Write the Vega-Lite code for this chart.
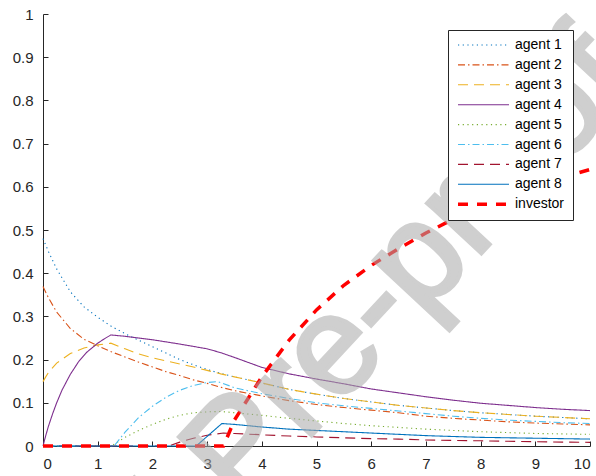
{
  "$schema": "https://vega.github.io/schema/vega-lite/v6.json",
  "width": 547,
  "height": 432,
  "autosize": "none",
  "padding": {"left": 43, "top": 14, "right": 6, "bottom": 30},
  "background": "white",
  "config": {
    "view": {"stroke": null},
    "font": "Liberation Sans",
    "axis": {
      "domainColor": "#262626",
      "tickColor": "#262626",
      "labelColor": "#262626",
      "labelFont": "Liberation Sans",
      "labelFontSize": 15,
      "grid": false,
      "tickSize": -5,
      "labelPadding": 15,
      "domainWidth": 1,
      "tickWidth": 1,
      "title": null
    }
  },
  "layer": [
    {
      "data": {
        "values": [
          {"s":"agent 1","x":0,"y":0.48},{"s":"agent 1","x":0.1,"y":0.45},{"s":"agent 1","x":0.25,"y":0.41},{"s":"agent 1","x":0.5,"y":0.357},{"s":"agent 1","x":0.75,"y":0.322},{"s":"agent 1","x":1,"y":0.298},{"s":"agent 1","x":1.25,"y":0.277},{"s":"agent 1","x":1.5,"y":0.26},{"s":"agent 1","x":1.75,"y":0.245},{"s":"agent 1","x":2,"y":0.23},{"s":"agent 1","x":2.25,"y":0.215},{"s":"agent 1","x":2.5,"y":0.2},{"s":"agent 1","x":2.75,"y":0.188},{"s":"agent 1","x":3,"y":0.177},{"s":"agent 1","x":3.25,"y":0.168},{"s":"agent 1","x":3.5,"y":0.16},{"s":"agent 1","x":4,"y":0.146},{"s":"agent 1","x":4.5,"y":0.131},{"s":"agent 1","x":5,"y":0.12},{"s":"agent 1","x":5.5,"y":0.11},{"s":"agent 1","x":6,"y":0.102},{"s":"agent 1","x":6.5,"y":0.094},{"s":"agent 1","x":7,"y":0.088},{"s":"agent 1","x":7.5,"y":0.082},{"s":"agent 1","x":8,"y":0.077},{"s":"agent 1","x":8.5,"y":0.073},{"s":"agent 1","x":9,"y":0.069},{"s":"agent 1","x":9.5,"y":0.066},{"s":"agent 1","x":10,"y":0.063},

          {"s":"agent 2","x":0,"y":0.369},{"s":"agent 2","x":0.1,"y":0.343},{"s":"agent 2","x":0.25,"y":0.31},{"s":"agent 2","x":0.5,"y":0.272},{"s":"agent 2","x":0.75,"y":0.247},{"s":"agent 2","x":1,"y":0.232},{"s":"agent 2","x":1.25,"y":0.218},{"s":"agent 2","x":1.5,"y":0.206},{"s":"agent 2","x":1.75,"y":0.194},{"s":"agent 2","x":2,"y":0.183},{"s":"agent 2","x":2.25,"y":0.172},{"s":"agent 2","x":2.5,"y":0.163},{"s":"agent 2","x":2.75,"y":0.153},{"s":"agent 2","x":3,"y":0.145},{"s":"agent 2","x":3.25,"y":0.136},{"s":"agent 2","x":3.5,"y":0.128},{"s":"agent 2","x":4,"y":0.116},{"s":"agent 2","x":4.5,"y":0.105},{"s":"agent 2","x":5,"y":0.096},{"s":"agent 2","x":5.5,"y":0.089},{"s":"agent 2","x":6,"y":0.083},{"s":"agent 2","x":6.5,"y":0.077},{"s":"agent 2","x":7,"y":0.069},{"s":"agent 2","x":7.5,"y":0.064},{"s":"agent 2","x":8,"y":0.06},{"s":"agent 2","x":8.5,"y":0.056},{"s":"agent 2","x":9,"y":0.053},{"s":"agent 2","x":9.5,"y":0.051},{"s":"agent 2","x":10,"y":0.049},

          {"s":"agent 3","x":0,"y":0.149},{"s":"agent 3","x":0.05,"y":0.16},{"s":"agent 3","x":0.1,"y":0.17},{"s":"agent 3","x":0.25,"y":0.192},{"s":"agent 3","x":0.5,"y":0.214},{"s":"agent 3","x":0.75,"y":0.227},{"s":"agent 3","x":1,"y":0.234},{"s":"agent 3","x":1.24,"y":0.238},{"s":"agent 3","x":1.5,"y":0.225},{"s":"agent 3","x":1.75,"y":0.213},{"s":"agent 3","x":2,"y":0.204},{"s":"agent 3","x":2.25,"y":0.197},{"s":"agent 3","x":2.5,"y":0.19},{"s":"agent 3","x":2.75,"y":0.183},{"s":"agent 3","x":3,"y":0.175},{"s":"agent 3","x":3.25,"y":0.167},{"s":"agent 3","x":3.5,"y":0.16},{"s":"agent 3","x":4,"y":0.146},{"s":"agent 3","x":4.5,"y":0.131},{"s":"agent 3","x":5,"y":0.12},{"s":"agent 3","x":5.5,"y":0.11},{"s":"agent 3","x":6,"y":0.102},{"s":"agent 3","x":6.5,"y":0.094},{"s":"agent 3","x":7,"y":0.088},{"s":"agent 3","x":7.5,"y":0.082},{"s":"agent 3","x":8,"y":0.077},{"s":"agent 3","x":8.5,"y":0.073},{"s":"agent 3","x":9,"y":0.069},{"s":"agent 3","x":9.5,"y":0.066},{"s":"agent 3","x":10,"y":0.063},

          {"s":"agent 4","x":0,"y":0},{"s":"agent 4","x":0.05,"y":0.024},{"s":"agent 4","x":0.1,"y":0.046},{"s":"agent 4","x":0.18,"y":0.076},{"s":"agent 4","x":0.25,"y":0.1},{"s":"agent 4","x":0.35,"y":0.13},{"s":"agent 4","x":0.5,"y":0.166},{"s":"agent 4","x":0.65,"y":0.195},{"s":"agent 4","x":0.8,"y":0.217},{"s":"agent 4","x":1,"y":0.238},{"s":"agent 4","x":1.12,"y":0.248},{"s":"agent 4","x":1.24,"y":0.257},{"s":"agent 4","x":1.5,"y":0.254},{"s":"agent 4","x":2,"y":0.246},{"s":"agent 4","x":2.5,"y":0.236},{"s":"agent 4","x":3,"y":0.225},{"s":"agent 4","x":3.25,"y":0.216},{"s":"agent 4","x":3.5,"y":0.205},{"s":"agent 4","x":4,"y":0.182},{"s":"agent 4","x":4.5,"y":0.167},{"s":"agent 4","x":5,"y":0.155},{"s":"agent 4","x":5.5,"y":0.144},{"s":"agent 4","x":6,"y":0.132},{"s":"agent 4","x":6.5,"y":0.123},{"s":"agent 4","x":7,"y":0.114},{"s":"agent 4","x":7.5,"y":0.106},{"s":"agent 4","x":8,"y":0.099},{"s":"agent 4","x":8.5,"y":0.094},{"s":"agent 4","x":9,"y":0.089},{"s":"agent 4","x":9.5,"y":0.085},{"s":"agent 4","x":10,"y":0.082},

          {"s":"agent 5","x":0,"y":0},{"s":"agent 5","x":1.25,"y":0},{"s":"agent 5","x":1.5,"y":0.02},{"s":"agent 5","x":1.75,"y":0.036},{"s":"agent 5","x":2,"y":0.05},{"s":"agent 5","x":2.25,"y":0.062},{"s":"agent 5","x":2.5,"y":0.071},{"s":"agent 5","x":2.75,"y":0.077},{"s":"agent 5","x":3,"y":0.079},{"s":"agent 5","x":3.25,"y":0.08},{"s":"agent 5","x":3.5,"y":0.077},{"s":"agent 5","x":4,"y":0.071},{"s":"agent 5","x":4.5,"y":0.064},{"s":"agent 5","x":5,"y":0.058},{"s":"agent 5","x":5.5,"y":0.052},{"s":"agent 5","x":6,"y":0.047},{"s":"agent 5","x":6.5,"y":0.043},{"s":"agent 5","x":7,"y":0.039},{"s":"agent 5","x":7.5,"y":0.036},{"s":"agent 5","x":8,"y":0.033},{"s":"agent 5","x":8.5,"y":0.031},{"s":"agent 5","x":9,"y":0.029},{"s":"agent 5","x":9.5,"y":0.028},{"s":"agent 5","x":10,"y":0.027},

          {"s":"agent 6","x":0,"y":0},{"s":"agent 6","x":1.3,"y":0},{"s":"agent 6","x":1.5,"y":0.032},{"s":"agent 6","x":1.75,"y":0.066},{"s":"agent 6","x":2,"y":0.092},{"s":"agent 6","x":2.25,"y":0.113},{"s":"agent 6","x":2.5,"y":0.129},{"s":"agent 6","x":2.75,"y":0.14},{"s":"agent 6","x":3,"y":0.147},{"s":"agent 6","x":3.2,"y":0.149},{"s":"agent 6","x":3.5,"y":0.135},{"s":"agent 6","x":4,"y":0.121},{"s":"agent 6","x":4.5,"y":0.11},{"s":"agent 6","x":5,"y":0.1},{"s":"agent 6","x":5.5,"y":0.093},{"s":"agent 6","x":6,"y":0.087},{"s":"agent 6","x":6.5,"y":0.081},{"s":"agent 6","x":7,"y":0.075},{"s":"agent 6","x":7.5,"y":0.069},{"s":"agent 6","x":8,"y":0.064},{"s":"agent 6","x":8.5,"y":0.06},{"s":"agent 6","x":9,"y":0.057},{"s":"agent 6","x":9.5,"y":0.054},{"s":"agent 6","x":10,"y":0.052},

          {"s":"agent 7","x":0,"y":0},{"s":"agent 7","x":2.3,"y":0},{"s":"agent 7","x":2.5,"y":0.009},{"s":"agent 7","x":2.75,"y":0.018},{"s":"agent 7","x":3,"y":0.025},{"s":"agent 7","x":3.3,"y":0.03},{"s":"agent 7","x":3.5,"y":0.029},{"s":"agent 7","x":4,"y":0.026},{"s":"agent 7","x":4.5,"y":0.023},{"s":"agent 7","x":5,"y":0.021},{"s":"agent 7","x":5.5,"y":0.019},{"s":"agent 7","x":6,"y":0.017},{"s":"agent 7","x":6.5,"y":0.016},{"s":"agent 7","x":7,"y":0.014},{"s":"agent 7","x":7.5,"y":0.013},{"s":"agent 7","x":8,"y":0.012},{"s":"agent 7","x":8.5,"y":0.011},{"s":"agent 7","x":9,"y":0.01},{"s":"agent 7","x":9.5,"y":0.009},{"s":"agent 7","x":10,"y":0.0085},

          {"s":"agent 8","x":0,"y":0},{"s":"agent 8","x":2.8,"y":0},{"s":"agent 8","x":3.27,"y":0.052},{"s":"agent 8","x":3.5,"y":0.05},{"s":"agent 8","x":4,"y":0.044},{"s":"agent 8","x":4.5,"y":0.039},{"s":"agent 8","x":5,"y":0.036},{"s":"agent 8","x":5.5,"y":0.033},{"s":"agent 8","x":6,"y":0.03},{"s":"agent 8","x":6.5,"y":0.027},{"s":"agent 8","x":7,"y":0.024},{"s":"agent 8","x":7.5,"y":0.022},{"s":"agent 8","x":8,"y":0.02},{"s":"agent 8","x":8.5,"y":0.019},{"s":"agent 8","x":9,"y":0.018},{"s":"agent 8","x":9.5,"y":0.017},{"s":"agent 8","x":10,"y":0.016},

          {"s":"investor","x":0,"y":0},{"s":"investor","x":3.3,"y":0},{"s":"investor","x":3.5,"y":0.06},{"s":"investor","x":3.75,"y":0.11},{"s":"investor","x":4,"y":0.16},{"s":"investor","x":4.5,"y":0.245},{"s":"investor","x":5,"y":0.315},{"s":"investor","x":5.5,"y":0.372},{"s":"investor","x":6,"y":0.418},{"s":"investor","x":6.5,"y":0.457},{"s":"investor","x":7,"y":0.493},{"s":"investor","x":7.5,"y":0.525},{"s":"investor","x":8,"y":0.555},{"s":"investor","x":8.5,"y":0.58},{"s":"investor","x":9,"y":0.603},{"s":"investor","x":9.5,"y":0.622},{"s":"investor","x":10,"y":0.64}
        ]
      },
      "mark": {"type": "line", "clip": false},
      "encoding": {
        "x": {
          "field": "x", "type": "quantitative",
          "scale": {"domain": [0, 10], "nice": false, "zero": false},
          "axis": {"values": [0,1,2,3,4,5,6,7,8,9,10], "labelBaseline": "top"}
        },
        "y": {
          "field": "y", "type": "quantitative",
          "scale": {"domain": [0, 1], "nice": false},
          "axis": {"values": [0,0.1,0.2,0.3,0.4,0.5,0.6,0.7,0.8,0.9,1], "format": "~g"}
        },
        "color": {
          "field": "s", "type": "nominal",
          "scale": {
            "domain": ["agent 1","agent 2","agent 3","agent 4","agent 5","agent 6","agent 7","agent 8","investor"],
            "range": ["#0072BD","#D95319","#EDB120","#7E2F8E","#77AC30","#4DBEEE","#A2142F","#0072BD","#FF0000"]
          },
          "legend": {
            "title": null, "orient": "none", "legendX": 405, "legendY": 16,
            "symbolType": "stroke", "symbolSize": 2601, "clipHeight": 14,
            "rowPadding": 5.9, "padding": 8, "labelOffset": 4, "labelFontSize": 14,
            "labelColor": "#000000", "labelFont": "Liberation Sans",
            "strokeColor": "#262626", "fillColor": "white", "columns": 1
          }
        },
        "strokeDash": {
          "field": "s", "type": "nominal",
          "scale": {
            "domain": ["agent 1","agent 2","agent 3","agent 4","agent 5","agent 6","agent 7","agent 8","investor"],
            "range": [[1.2,3.5],[7,3,1.5,3],[10,6],[1,0],[1.2,3.5],[7,3,1.5,3],[10,6],[1,0],[10,9]]
          },
          "legend": {
            "title": null, "orient": "none", "legendX": 405, "legendY": 16,
            "symbolType": "stroke", "symbolSize": 2601, "clipHeight": 14,
            "rowPadding": 5.9, "padding": 8, "labelOffset": 4, "labelFontSize": 14,
            "labelColor": "#000000", "labelFont": "Liberation Sans",
            "strokeColor": "#262626", "fillColor": "white", "columns": 1
          }
        },
        "strokeWidth": {
          "field": "s", "type": "ordinal",
          "scale": {
            "type": "ordinal",
            "domain": ["agent 1","agent 2","agent 3","agent 4","agent 5","agent 6","agent 7","agent 8","investor"],
            "range": [1.1,1.1,1.1,1.1,1.1,1.1,1.1,1.1,3.5]
          },
          "legend": {
            "title": null, "orient": "none", "legendX": 405, "legendY": 16,
            "symbolType": "stroke", "symbolSize": 2601, "clipHeight": 14,
            "rowPadding": 5.9, "padding": 8, "labelOffset": 4, "labelFontSize": 14,
            "labelColor": "#000000", "labelFont": "Liberation Sans",
            "strokeColor": "#262626", "fillColor": "white", "columns": 1
          }
        }
      }
    },
    {
      "data": {"values": [{"t": "Journal Pre-proof"}]},
      "mark": {
        "type": "text", "font": "Liberation Sans",
        "fontSize": 140, "angle": -47, "align": "center", "baseline": "alphabetic",
        "fill": "#a8a8a8", "stroke": "#a8a8a8", "strokeWidth": 4,
        "opacity": 0.55, "clip": false
      },
      "encoding": {
        "text": {"field": "t"},
        "x": {"datum": 4.16, "type": "quantitative"},
        "y": {"datum": -0.078, "type": "quantitative"}
      }
    }
  ]
}
